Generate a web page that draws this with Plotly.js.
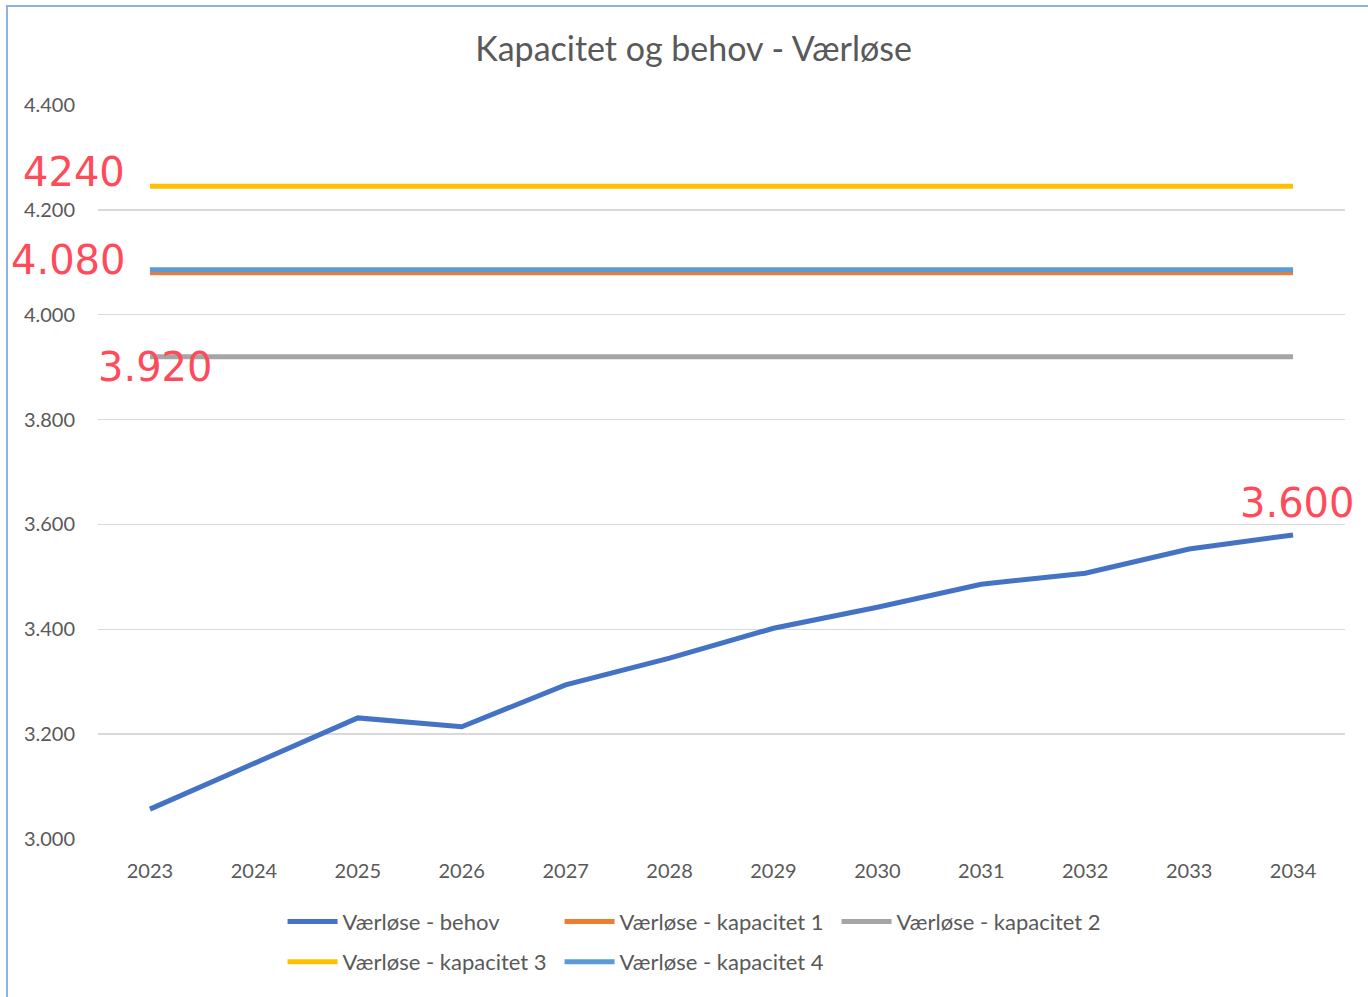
<!DOCTYPE html>
<html>
<head>
<meta charset="utf-8">
<script src="https://cdn.plot.ly/plotly-3.0.1.min.js"></script>
<style>
html,body{margin:0;padding:0;background:#fff;}
#wrap{position:relative;width:1368px;height:997px;overflow:hidden;}
#chart{position:absolute;left:0;top:0;width:1368px;height:997px;}
#frame{position:absolute;left:6px;top:5px;width:1400px;height:1100px;border-left:2px solid #8db3e2;border-top:2px solid #8db3e2;pointer-events:none;}
</style>
</head>
<body>
<div id="wrap"><div id="chart"></div><div id="frame"></div></div>
<script>
const years = ['2023','2024','2025','2026','2027','2028','2029','2030','2031','2032','2033','2034'];
const behov = [3057, 3145, 3231, 3214, 3294, 3345, 3402, 3442, 3486, 3507, 3553, 3580];
const kapacitet1 = [4080,4080,4080,4080,4080,4080,4080,4080,4080,4080,4080,4080];
const kapacitet2 = [3920,3920,3920,3920,3920,3920,3920,3920,3920,3920,3920,3920];
const kapacitet3 = [4245,4245,4245,4245,4245,4245,4245,4245,4245,4245,4245,4245];
const kapacitet4 = [4086,4086,4086,4086,4086,4086,4086,4086,4086,4086,4086,4086];
const seriesNames = ['Værløse - behov','Værløse - kapacitet 1','Værløse - kapacitet 2','Værløse - kapacitet 3','Værløse - kapacitet 4'];
const yTicks = [3000,3200,3400,3600,3800,4000,4200,4400];
const yTickText = ['3.000','3.200','3.400','3.600','3.800','4.000','4.200','4.400'];
const notes = ['4240','4.080','3.920','3.600'];

const colors = ['#4472c4','#ed7d31','#a5a5a5','#ffc000','#5b9bd5'];
const legendOf = ['legend','legend','legend','legend2','legend2'];
const data = [behov,kapacitet1,kapacitet2,kapacitet3,kapacitet4].map((v,i)=>({
  x: years, y: v, type:'scatter', mode:'lines', name: seriesNames[i], legend: legendOf[i],
  line:{color:colors[i], width:5}
}));
const font = 'Lato, "Open Sans", sans-serif';
const hand = {family:'"DejaVu Sans", sans-serif', size:40, color:'#ff4a5a'};
const legendBase = {orientation:'h', xanchor:'left', yanchor:'top', entrywidth:212, entrywidthmode:'pixels',
          font:{family:font, size:22, color:'#595959'}, itemwidth:50, traceorder:'normal', bgcolor:'rgba(0,0,0,0)'};
const layout = {
  width:1368, height:997,
  margin:{l:98, r:23, t:105, b:158},
  paper_bgcolor:'#fff', plot_bgcolor:'#fff',
  title:{text:'Kapacitet og behov - Værløse', x:0.507, xanchor:'center', y:0.951, yanchor:'middle',
         font:{family:font, size:34, color:'#595959'}},
  xaxis:{type:'category', range:[-0.5,11.5], showgrid:false, zeroline:false, showline:false,
         ticks:'', tickfont:{family:font, size:20, color:'#595959'}, ticklabelstandoff:18},
  yaxis:{range:[3000,4400], tickvals:yTicks, ticktext:yTickText, showgrid:true, gridcolor:'#d9d9d9', gridwidth:1.5,
         zeroline:false, showline:false, ticks:'', tickfont:{family:font, size:20, color:'#595959'}, ticklabelstandoff:22},
  showlegend:true,
  legend:Object.assign({}, legendBase, {x:0.148, y:-0.084}),
  legend2:Object.assign({}, legendBase, {x:0.148, y:-0.139}),
  annotations:[
    {xref:'paper', yref:'y', x:-0.019, y:4272, text:notes[0], showarrow:false, xanchor:'center', yanchor:'middle', font:hand},
    {xref:'paper', yref:'y', x:-0.024, y:4104, text:notes[1], showarrow:false, xanchor:'center', yanchor:'middle', font:hand},
    {xref:'paper', yref:'y', x:0.046, y:3900, text:notes[2], showarrow:false, xanchor:'center', yanchor:'middle', font:hand},
    {xref:'paper', yref:'y', x:0.962, y:3640, text:notes[3], showarrow:false, xanchor:'center', yanchor:'middle', font:hand}
  ]
};
Plotly.newPlot('chart', data, layout, {displayModeBar:false, staticPlot:true});
</script>
</body>
</html>
